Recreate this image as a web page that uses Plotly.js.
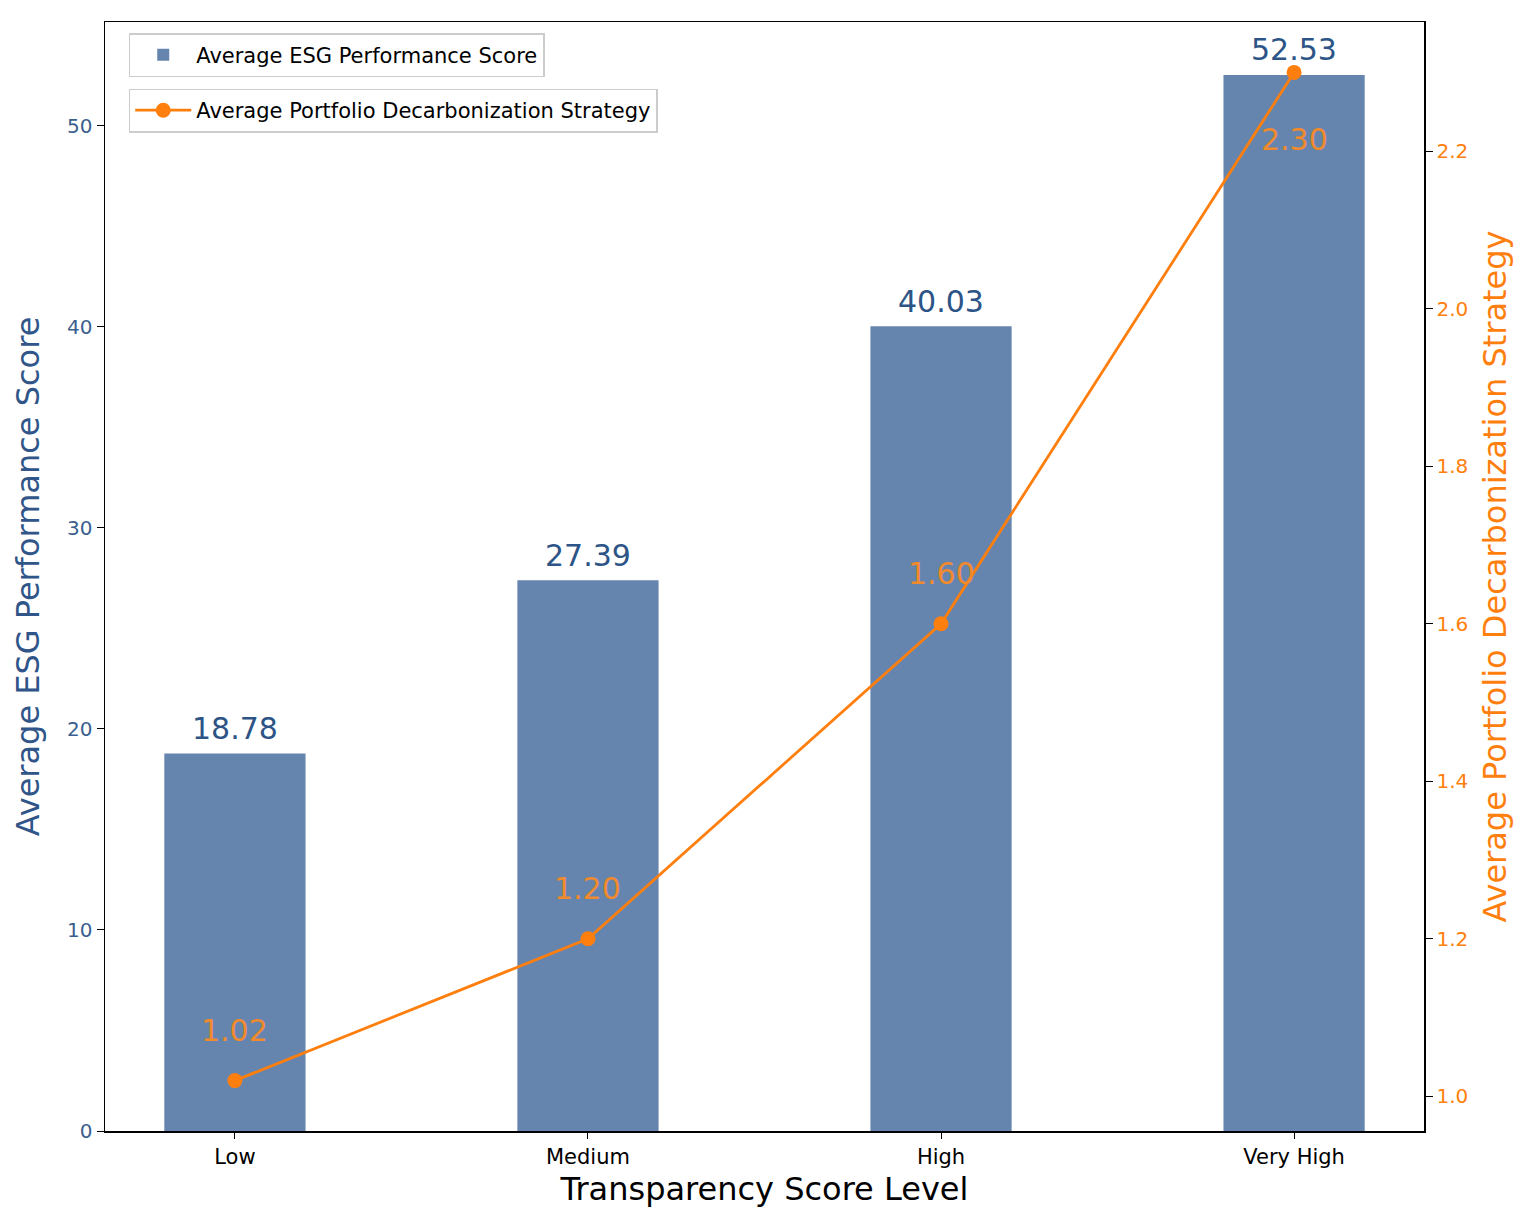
<!DOCTYPE html>
<html>
<head>
<meta charset="utf-8">
<script src="https://cdn.plot.ly/plotly-3.0.1.min.js"></script>
<style>
  html, body { margin: 0; padding: 0; background: #fff; }
  #chart { width: 1536px; height: 1229px; }
</style>
</head>
<body>
<div id="chart"></div>
<script>
// data
var levels = ['Low', 'Medium', 'High', 'Very High'];
var esgScores = [18.78, 27.39, 40.03, 52.53];
var decarbScores = [1.02, 1.20, 1.60, 2.30];

var blue = '#6685ae';
var blueText = '#2c5486';
var orange = '#ff7f0e';
var orangeText = '#f08a2c';
var font = 'DejaVu Sans, sans-serif';

var bars = {
  type: 'bar',
  name: 'Average ESG Performance Score',
  x: levels,
  y: esgScores,
  width: 0.4,
  marker: { color: blue },
  legend: 'legend',
  hoverinfo: 'y'
};

var line = {
  type: 'scatter',
  mode: 'lines+markers',
  name: 'Average Portfolio Decarbonization Strategy',
  x: levels,
  y: decarbScores,
  yaxis: 'y2',
  line: { color: orange, width: 2.8 },
  marker: { color: orange, size: 15 },
  legend: 'legend2'
};

// value labels
var annotations = [];
levels.forEach(function (lvl, i) {
  annotations.push({
    x: lvl, y: esgScores[i], xref: 'x', yref: 'y',
    text: esgScores[i].toFixed(2), showarrow: false,
    yanchor: 'middle', yshift: 25,
    font: { family: font, size: 30, color: blueText }
  });
  var last = i === levels.length - 1;
  annotations.push({
    x: lvl, y: decarbScores[i], xref: 'x', yref: 'y2',
    text: decarbScores[i].toFixed(2), showarrow: false,
    yanchor: 'middle', yshift: last ? -67 : 50,
    font: { family: font, size: 30, color: orangeText }
  });
});

var layout = {
  width: 1536,
  height: 1229,
  margin: { l: 105, r: 112, t: 22, b: 98 },
  paper_bgcolor: '#fff',
  plot_bgcolor: '#fff',
  font: { family: font, color: '#000' },
  showlegend: true,
  xaxis: {
    type: 'category',
    range: [-0.368, 3.368],
    showline: true, linecolor: '#000', linewidth: 1.5, mirror: true,
    ticks: 'outside', ticklen: 6, tickcolor: '#000',
    tickfont: { size: 21, color: '#000' },
    showgrid: false, zeroline: false,
    title: { text: 'Transparency Score Level', font: { size: 32, color: '#000' }, standoff: 10 }
  },
  yaxis: {
    range: [0, 55.16],
    tickvals: [0, 10, 20, 30, 40, 50],
    showline: true, linecolor: '#000', linewidth: 1.5,
    ticks: 'outside', ticklen: 7, tickcolor: '#000',
    tickfont: { size: 20, color: '#3a5f8f' },
    showgrid: false, zeroline: false,
    title: { text: 'Average ESG Performance Score', font: { size: 32, color: '#2f5589' }, standoff: 18 }
  },
  yaxis2: {
    overlaying: 'y',
    side: 'right',
    range: [0.956, 2.364],
    tickvals: [1.0, 1.2, 1.4, 1.6, 1.8, 2.0, 2.2],
    ticktext: ['1.0', '1.2', '1.4', '1.6', '1.8', '2.0', '2.2'],
    showline: true, linecolor: '#000', linewidth: 1.5,
    ticks: 'outside', ticklen: 7, tickcolor: '#000',
    tickfont: { size: 20, color: orange },
    showgrid: false, zeroline: false,
    title: { text: 'Average Portfolio Decarbonization Strategy', font: { size: 32, color: orange }, standoff: 16 }
  },
  legend: {
    x: 0.018, y: 0.99, xanchor: 'left', yanchor: 'top',
    bgcolor: 'rgba(255,255,255,0.85)', bordercolor: '#cccccc', borderwidth: 1.5,
    itemwidth: 56,
    font: { size: 21, color: '#000' }
  },
  legend2: {
    x: 0.018, y: 0.94, xanchor: 'left', yanchor: 'top',
    bgcolor: 'rgba(255,255,255,0.85)', bordercolor: '#cccccc', borderwidth: 1.5,
    itemwidth: 56,
    font: { size: 21, color: '#000' }
  },
  annotations: annotations
};

Plotly.newPlot('chart', [bars, line], layout, { displayModeBar: false, staticPlot: true });
</script>
</body>
</html>
